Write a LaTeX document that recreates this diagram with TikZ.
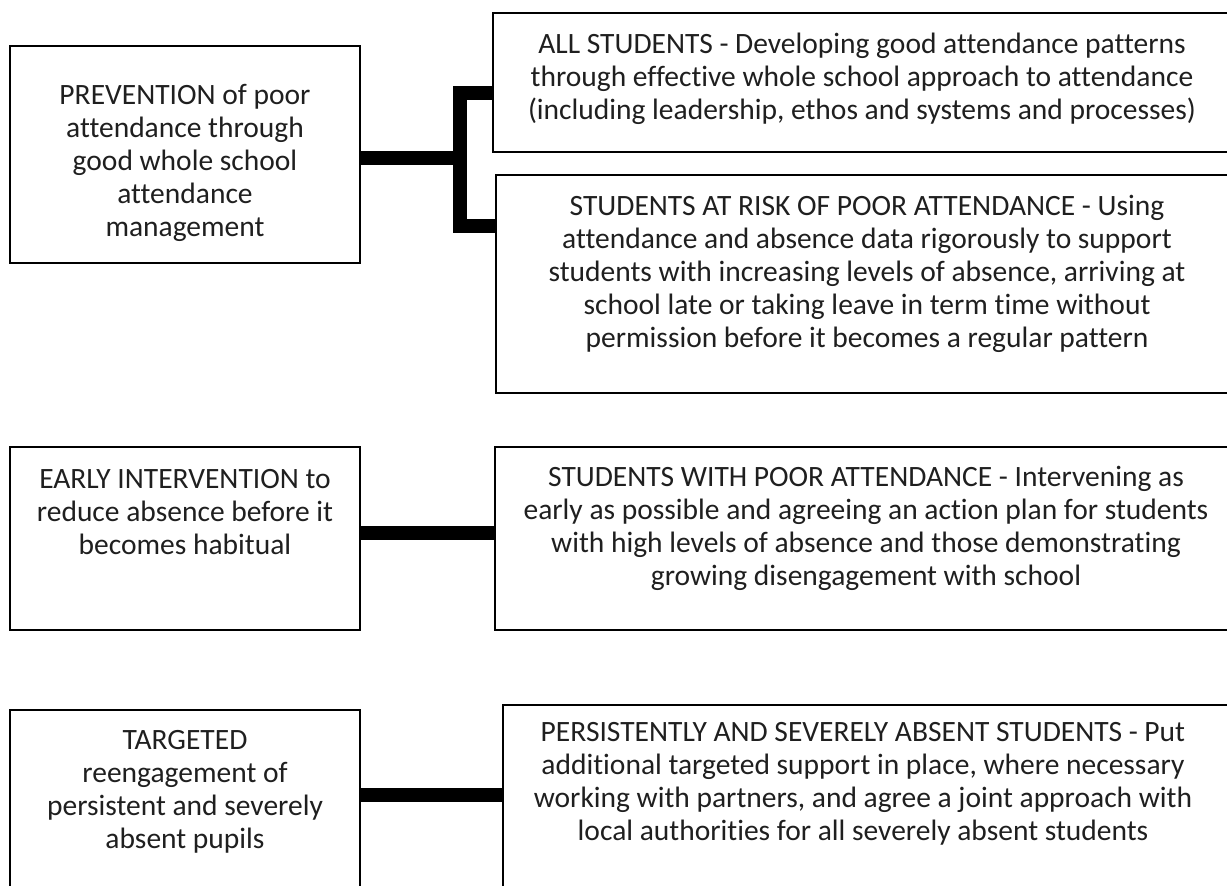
\documentclass[tikz,border=0pt]{standalone}
\usepackage{fontspec}
\setmainfont{Carlito}[Ligatures={NoCommon,NoContextual}]
\usepackage{tikz}

\begin{document}
\begin{tikzpicture}[x=1pt,y=-1pt,
		frame/.style={rectangle,draw,line width=1.6pt,inner sep=0pt,outer sep=0pt,anchor=north west},
		txt/.style={align=center,inner sep=0pt,text=black!88,font=\fontsize{29.5}{33}\selectfont},
		link/.style={line width=14pt,line join=miter}
		]
		\path[use as bounding box] (0,0) rectangle (1227,886);
		\clip (0,0) rectangle (1227,886);

		% left column
		\node[frame, minimum width=350pt, minimum height=217pt](Prev) at (10,46){};
		\node[frame, minimum width=350pt, minimum height=183pt](Early) at (10,447){};
		\node[frame, minimum width=350pt, minimum height=190pt](Target) at (10,710){};

		% right column, running off the page edge
		\node[frame, minimum width=739pt, minimum height=139pt](All) at (493,13){};
		\node[frame, minimum width=736pt, minimum height=218pt](Risk) at (496,175){};
		\node[frame, minimum width=737pt, minimum height=183pt](Poor) at (495,447){};
		\node[frame, minimum width=729pt, minimum height=195pt](Absent) at (503,705){};

		% texts
		\node[txt](PrevT) at (185,163){PREVENTION of poor\\attendance through\\good whole school\\attendance\\management};
		\node[txt](EarlyT) at (185,512){EARLY INTERVENTION to\\reduce absence before it\\becomes habitual};
		\node[txt](TargetT) at (185,792){TARGETED\\reengagement of\\persistent and severely\\absent pupils};
		\node[txt](AllT) at (862,79){ALL STUDENTS - Developing good attendance patterns\\through effective whole school approach to attendance\\(including leadership, ethos and systems and processes)};
		\node[txt](RiskT) at (867,274){STUDENTS AT RISK OF POOR ATTENDANCE - Using\\attendance and absence data rigorously to support\\students with increasing levels of absence, arriving at\\school late or taking leave in term time without\\permission before it becomes a regular pattern};
		\node[txt](PoorT) at (866,528){STUDENTS WITH POOR ATTENDANCE - Intervening as\\early as possible and agreeing an action plan for students\\with high levels of absence and those demonstrating\\growing disengagement with school};
		\node[txt](AbsentT) at (863,784){PERSISTENTLY AND SEVERELY ABSENT STUDENTS - Put\\additional targeted support in place, where necessary\\working with partners, and agree a joint approach with\\local authorities for all severely absent students};

		% connectors
		\coordinate (fork) at (460,158);
		\coordinate (forkT) at (460,93);
		\coordinate (forkB) at (460,226);
		\coordinate (midE) at (0,533);
		\coordinate (midT) at (0,795);
		\draw[link] (Prev.east |- fork) -- (fork);
		\draw[link] (All.west |- forkT) -- (forkT) -- (forkB) -- (Risk.west |- forkB);
		\draw[link] (Early.east |- midE) -- (Poor.west |- midE);
		\draw[link] (Target.east |- midT) -- (Absent.west |- midT);
	\end{tikzpicture}
\end{document}
